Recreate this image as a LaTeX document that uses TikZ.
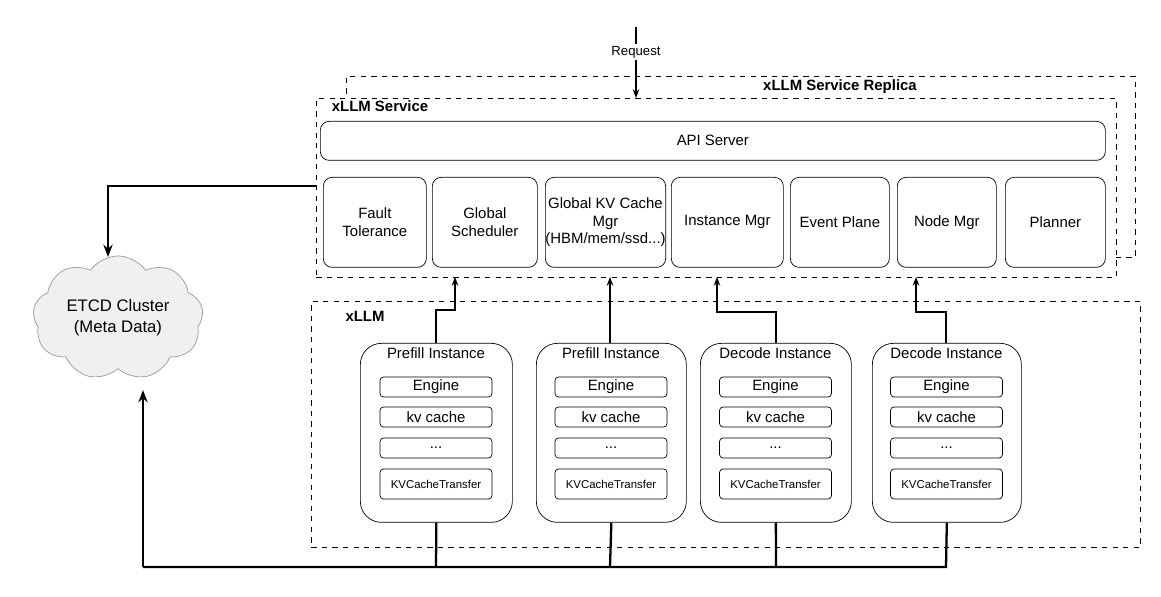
\documentclass[tikz,border=0pt]{standalone}
\usepackage{fontspec}
\setmainfont{Liberation Sans}
\usetikzlibrary{shapes.symbols,arrows.meta}
\begin{document}
\begin{tikzpicture}[x=0.02cm,y=-0.02cm,
  box/.style={draw,rounded corners=5pt,align=center,font=\fontsize{8.5}{10}\selectfont,inner sep=0pt},
  inner/.style={draw,rounded corners=2pt,font=\fontsize{8.5}{10}\selectfont,inner sep=0pt,minimum width=112*0.02cm,minimum height=20*0.02cm},
  dbox/.style={draw,dashed,line width=0.4pt},
  arr/.style={-{Stealth[length=5pt]},line width=0.6pt},
  thick2/.style={line width=1.3pt}]
\useasboundingbox (0,0) rectangle (1161,597);
% Request
\coordinate (req) at (636,27);
\node[dbox,minimum width=789*0.02cm,minimum height=181*0.02cm,anchor=north west,inner sep=0] (rep) at (346,76) {};
\node[font=\bfseries\fontsize{8.5}{10}\selectfont] (replbl) at (840,87) {xLLM Service Replica};
\node[dbox,fill=white,minimum width=800*0.02cm,minimum height=179*0.02cm,anchor=north west,inner sep=0] (svc) at (316,98) {};
\node[font=\bfseries\fontsize{8.5}{10}\selectfont] (svclbl) at (380,106) {xLLM Service};
\draw[arr] (req) -- (636,98);
\node[fill=white,font=\fontsize{7.5}{9}\selectfont,inner sep=1pt] (reqlbl) at (636,52) {Request};
\node[box,minimum width=785*0.02cm,minimum height=39*0.02cm,anchor=north west] (api) at (320,121) {API Server};
\foreach \n/\a/\b/\t in {ft/323/426/{Fault\\Tolerance},gs/432/537/{Global\\Scheduler},kv/545/665/{Global KV Cache\\Mgr\\(HBM/mem/ssd...)},im/671/783/{Instance Mgr},ep/790/889/{Event Plane},nm/897/996/{Node Mgr},pl/1005/1105/{Planner}}
  \node[box,minimum width={(\b-\a)*0.02cm},minimum height=90*0.02cm,anchor=north west] (\n) at (\a,177) {\t};
% xLLM
\node[dbox,minimum width=829*0.02cm,minimum height=246*0.02cm,anchor=north west,inner sep=0] (xl) at (311,301) {};
\node[font=\bfseries\fontsize{8.5}{10}\selectfont] (xllbl) at (365,316) {xLLM};
\foreach \n/\a/\b/\t in {i1/360/512/Prefill Instance,i2/536/686/Prefill Instance,i3/700/851/Decode Instance,i4/872/1021/Decode Instance}{
  \node[draw,rounded corners=12pt,minimum width={(\b-\a)*0.02cm},minimum height=179*0.02cm,anchor=north west,inner sep=0] (\n) at (\a,343) {};
  \node[font=\fontsize{8.5}{10}\selectfont] (\n t) at ({(\a+\b)/2},353) {\t};
  \node[inner] (\n e) at ({(\a+\b)/2},387) {Engine};
  \node[inner] (\n k) at ({(\a+\b)/2},417) {kv cache};
  \node[inner] (\n d) at ({(\a+\b)/2},448) {...};
  \node[inner,minimum height=30*0.02cm,font=\fontsize{6.5}{7}\selectfont] (\n x) at ({(\a+\b)/2},484) {KVCacheTransfer};
}
% up arrows
\draw[arr] (436,343) -- (436,310) -- (455,310) -- (455,277);
\draw[arr] (610,343) -- (610,277);
\draw[arr] (776,343) -- (776,312) -- (717,312) -- (717,277);
\draw[arr] (946,343) -- (946,312) -- (916,312) -- (916,277);
% cloud
\node[cloud,draw=gray!80,fill=gray!12,cloud puffs=9,cloud puff arc=110,aspect=1.6,minimum width=170*0.02cm,minimum height=110*0.02cm,align=center,font=\fontsize{9.5}{12}\selectfont] (etcd) at (118,318) {ETCD Cluster\\(Meta Data)};
\draw[thick2,-{Stealth[length=7pt]}] (svc.west |- 0,186) -- (108,186) -- (108,257);
\draw[thick2] (i1.south) -- (436,567);
\draw[thick2] (i2.south) -- (610,567);
\draw[thick2] (i3.south) -- (776,567);
\draw[thick2] (i4.south) -- (946,567) -- (143,567);
\draw[thick2,-{Stealth[length=7pt]}] (143,567) -- (143,390);
\end{tikzpicture}
\end{document}
